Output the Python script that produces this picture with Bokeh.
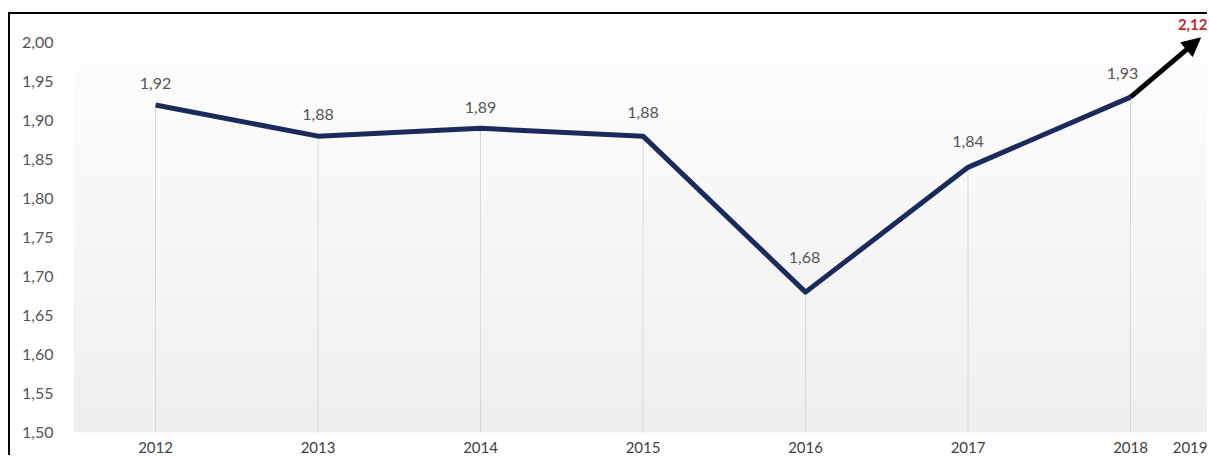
import numpy as np
from bokeh.plotting import figure
from bokeh.models import ColumnDataSource, FixedTicker, Arrow, NormalHead, CustomJSTickFormatter
from bokeh.core.properties import value
from bokeh.embed import file_html
from bokeh.resources import INLINE

# ---- data ----
years = [2012, 2013, 2014, 2015, 2016, 2017, 2018]
values = [1.92, 1.88, 1.89, 1.88, 1.68, 1.84, 1.93]
value_labels = ["1,92", "1,88", "1,89", "1,88", "1,68", "1,84", "1,93"]
forecast_year_label = "2019"
forecast_value_label = "2,12"
y_ticks = [1.50, 1.55, 1.60, 1.65, 1.70, 1.75, 1.80, 1.85, 1.90, 1.95, 2.00]

# ---- layout / style ----
label_dx = [0, 0, 0, 0, -1, 0, -8]
label_dy = [-21, -22, -21, -24, -35, -26, -24]
forecast_tick_pos = 2018.37
arrow_end_x = 2018.43
arrow_end_y = 2.006
x_lo, x_hi = 2011.495, 2018.486
y_lo, y_hi = 1.50, 2.036

p = figure(width=1199, height=443, x_range=(x_lo, x_hi), y_range=(y_lo, y_hi),
           output_backend="svg", toolbar_location=None,
           min_border_left=63, min_border_right=0, min_border_top=0, min_border_bottom=25)
p.margin = (12, 0, 0, 8)
p.styles = {"border-left": "2px solid #000000", "border-top": "2px solid #000000"}
p.background_fill_color = "white"
p.border_fill_color = "white"
p.outline_line_color = None
p.xgrid.grid_line_color = None
p.ygrid.grid_line_color = None

# gradient background of plot area
N = 128
t = np.linspace(0.0, 1.0, N)
gray = (239 + 16 * t).astype(np.uint8)
img = np.empty((N, 1), dtype=np.uint32)
view = img.view(dtype=np.uint8).reshape((N, 1, 4))
view[:, 0, 0] = gray
view[:, 0, 1] = gray
view[:, 0, 2] = gray
view[:, 0, 3] = 255
p.image_rgba(image=[img], x=x_lo, y=y_lo, dw=x_hi - x_lo, dh=y_hi - y_lo)

# drop lines
p.segment(x0=years, y0=[y_lo] * len(years), x1=years, y1=values,
          line_color="#d9d9d9", line_width=1)

# main line
p.line(years, values, line_color="#1b2a5c", line_width=5, line_join="round")

# forecast arrow
p.add_layout(Arrow(end=NormalHead(size=18, fill_color="black", line_color="black"),
                   x_start=years[-1], y_start=values[-1], x_end=arrow_end_x, y_end=arrow_end_y,
                   line_color="black", line_width=5))

# data labels
src = ColumnDataSource(dict(x=years, y=values, text=value_labels, dx=label_dx, dy=label_dy))
p.text(x="x", y="y", text="text", x_offset="dx", y_offset="dy", source=src,
       text_font=value("Lato"), text_font_size="16px", text_color="#555555",
       text_align="center", text_baseline="middle")

# forecast value label
p.text(x=[x_hi], y=[arrow_end_y], text=[forecast_value_label], x_offset=-2, y_offset=-13,
       text_font=value("Lato"), text_font_size="15px", text_font_style="bold",
       text_color="#c0282d", text_align="right", text_baseline="middle")

# axes
p.yaxis.ticker = FixedTicker(ticks=y_ticks)
p.yaxis.formatter = CustomJSTickFormatter(code="return tick.toFixed(2).replace('.', ',');")
p.yaxis.axis_line_color = None
p.yaxis.major_tick_line_color = None
p.yaxis.minor_tick_line_color = None
p.yaxis.major_tick_out = 0
p.yaxis.major_label_standoff = 20
p.yaxis.major_label_text_font = "Lato"
p.yaxis.major_label_text_font_size = "16px"
p.yaxis.major_label_text_color = "#555555"

x_ticks = years + [forecast_tick_pos]
p.xaxis.ticker = FixedTicker(ticks=x_ticks)
overrides = {y: str(y) for y in years}
overrides[forecast_tick_pos] = forecast_year_label
p.xaxis.major_label_overrides = overrides
p.xaxis.axis_line_color = None
p.xaxis.major_tick_line_color = None
p.xaxis.minor_tick_line_color = None
p.xaxis.major_tick_out = 0
p.xaxis.major_label_standoff = 9
p.xaxis.major_label_text_font = "Lato"
p.xaxis.major_label_text_font_size = "15px"
p.xaxis.major_label_text_color = "#404040"
p.xaxis.major_label_text_line_height = 1.0

open("out.html", "w").write(file_html(p, INLINE))
